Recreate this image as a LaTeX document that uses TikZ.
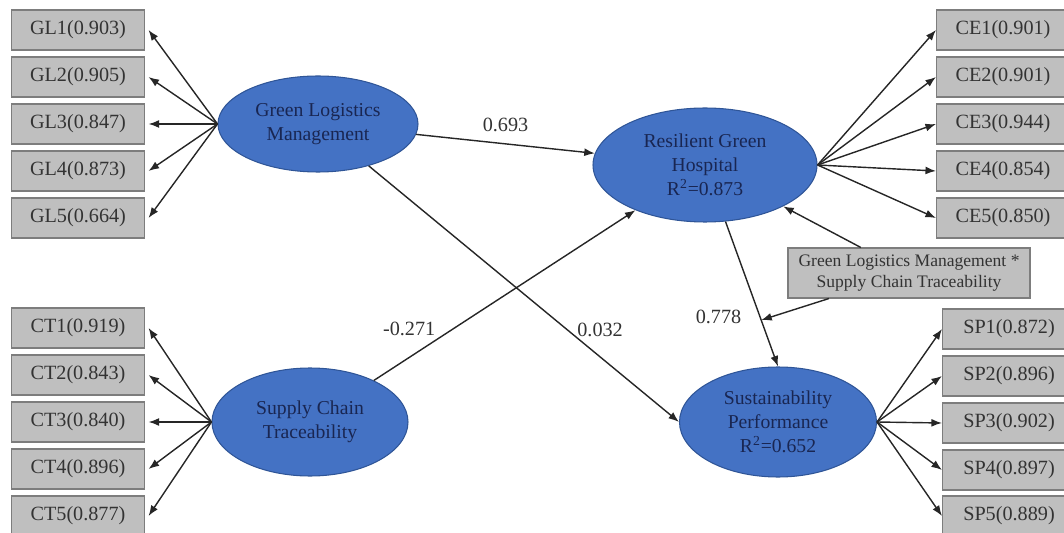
\documentclass[tikz,border=0pt]{standalone}
\usepackage{fontspec}
\setmainfont{Liberation Serif}
\usetikzlibrary{arrows.meta, shapes.geometric}
\definecolor{boxgray}{RGB}{191,191,191}
\definecolor{boxline}{RGB}{125,125,125}
\definecolor{latfill}{RGB}{68,114,196}
\definecolor{latline}{RGB}{47,85,151}
\definecolor{lattext}{RGB}{25,38,82}
\begin{document}
\begin{tikzpicture}[x=0.02cm, y=-0.02cm,
    item/.style={draw=boxline, fill=boxgray, line width=0.6pt, minimum width=133*0.02cm, minimum height=40*0.02cm, inner sep=0pt, font=\fontsize{11.5}{13}\selectfont, text=black!80},
    latent/.style={draw=latline, fill=latfill, ellipse, line width=0.6pt, inner sep=0pt, align=center, text=lattext, font=\fontsize{11.2}{13.5}\selectfont},
    arr/.style={-{Latex[length=6pt, width=4.5pt]}, line width=0.8pt, black!85},
    coef/.style={font=\fontsize{11.5}{13}\selectfont, text=black!80}]
    \useasboundingbox (0,0) rectangle (1064,533);

    % Latent variables
    \node[latent, minimum width=200*0.02cm, minimum height=96*0.02cm] (GL) at (318, 124) {Green Logistics\\Management};
    \node[latent, minimum width=196*0.02cm, minimum height=108*0.02cm] (SCT) at (310, 422) {Supply Chain\\Traceability};
    \node[latent, minimum width=224*0.02cm, minimum height=114*0.02cm] (RGH) at (705, 165) {Resilient Green\\Hospital\\R\textsuperscript{2}=0.873};
    \node[latent, minimum width=197*0.02cm, minimum height=110*0.02cm] (SP) at (778, 422) {Sustainability\\Performance\\R\textsuperscript{2}=0.652};

    \node[item, minimum width=242*0.02cm, minimum height=50*0.02cm, align=center, font=\fontsize{10}{12}\selectfont] (INT) at (909, 273) {Green Logistics Management *\\Supply Chain Traceability};

    % Indicators
    \node[item] (GL1) at (78, 30) {GL1(0.903)};
    \node[item] (GL2) at (78, 77) {GL2(0.905)};
    \node[item] (GL3) at (78, 124) {GL3(0.847)};
    \node[item] (GL4) at (78, 171) {GL4(0.873)};
    \node[item] (GL5) at (78, 218) {GL5(0.664)};

    \node[item] (CT1) at (78, 328) {CT1(0.919)};
    \node[item] (CT2) at (78, 375) {CT2(0.843)};
    \node[item] (CT3) at (78, 422) {CT3(0.840)};
    \node[item] (CT4) at (78, 469) {CT4(0.896)};
    \node[item] (CT5) at (78, 516) {CT5(0.877)};

    \node[item] (CE1) at (1003, 30) {CE1(0.901)};
    \node[item] (CE2) at (1003, 77) {CE2(0.901)};
    \node[item] (CE3) at (1003, 124) {CE3(0.944)};
    \node[item] (CE4) at (1003, 171) {CE4(0.854)};
    \node[item] (CE5) at (1003, 218) {CE5(0.850)};

    \node[item] (SP1) at (1009, 329) {SP1(0.872)};
    \node[item] (SP2) at (1009, 376) {SP2(0.896)};
    \node[item] (SP3) at (1009, 423) {SP3(0.902)};
    \node[item] (SP4) at (1009, 470) {SP4(0.897)};
    \node[item] (SP5) at (1009, 516) {SP5(0.889)};

    % Loadings
    \foreach \i in {1,...,5} {
      \draw[arr] (GL.west) -- ([xshift=2pt]GL\i.east);
      \draw[arr] (SCT.west) -- ([xshift=2pt]CT\i.east);
      \draw[arr] (RGH.east) -- (CE\i.west);
      \draw[arr] (SP.east) -- (SP\i.west);
    }

    % Paths
    \draw[arr] (GL) -- (RGH) node[coef, midway, above=3pt] {0.693};
    \draw[arr] (GL) -- (SP.west) node[coef, pos=0.64, right=2pt] {0.032};
    \draw[arr] (SCT) -- (RGH) node[coef, pos=0.3, left=6pt] {-0.271};
    \draw[arr] (RGH) -- (SP.north) coordinate[pos=0.68] (MOD) node[coef, pos=0.66, left=7pt] {0.778};
    \draw[arr] (INT) -- (RGH);
    \draw[arr] (INT) -- (MOD);
\end{tikzpicture}
\end{document}
